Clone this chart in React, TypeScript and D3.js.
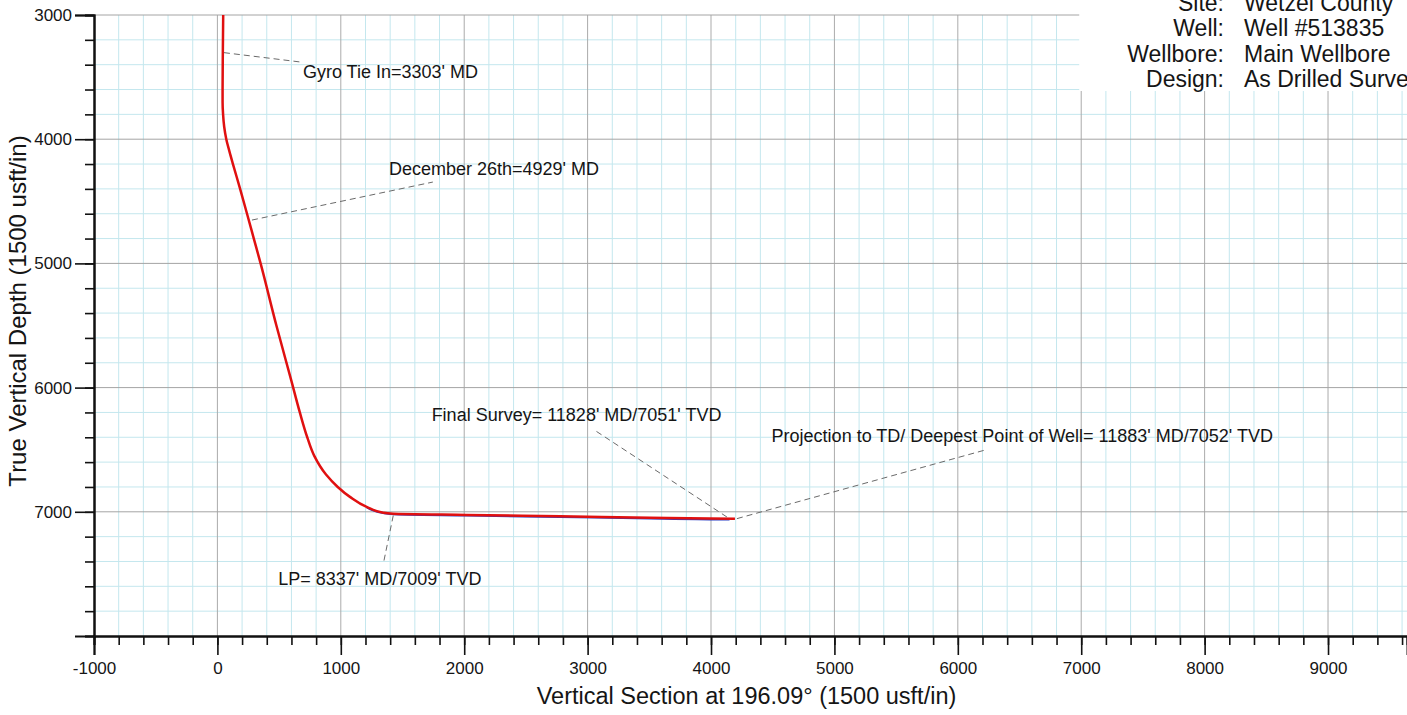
import { useRef, useEffect } from 'react'
import * as d3 from 'd3'

// As drilled survey (vertical section ft, TVD ft)
const SURVEY_VS = [47, 44, 42, 42, 46, 55, 72, 98, 126, 184, 240, 295, 350, 478, 598, 668, 728, 785, 880, 975, 1074, 1209, 1344, 1425, 2019, 2776, 3505, 3991, 4194]
const SURVEY_TVD = [3000, 3300, 3600, 3700, 3800, 3900, 4000, 4100, 4200, 4400, 4600, 4800, 5000, 5500, 5940, 6200, 6400, 6550, 6700, 6800, 6880, 6960, 7007, 7015, 7025, 7036, 7047, 7054, 7056]

// plan line (only shows under the lateral)
const PLAN_VS = [1209, 1344, 1425, 2019, 2776, 3505, 3991, 4150]
const PLAN_TVD = [6962, 7010, 7019, 7030, 7042, 7054, 7061, 7062]

const X_MAJOR = [-1000, 0, 1000, 2000, 3000, 4000, 5000, 6000, 7000, 8000, 9000]
const Y_MAJOR = [3000, 4000, 5000, 6000, 7000]

const HEADER_LABELS = ['Site:', 'Well:', 'Wellbore:', 'Design:']
const HEADER_VALUES = ['Wetzel County', 'Well #513835', 'Main Wellbore', 'As Drilled Survey']

interface Note {
  text: string
  at: [number, number]
  elbow: [number, number]
  label: [number, number]
}

const NOTES: Note[] = [
  { text: "Gyro Tie In=3303' MD", at: [53, 3303], elbow: [669, 3378], label: [693, 3507] },
  { text: "December 26th=4929' MD", at: [280, 4651], elbow: [1746, 4345], label: [1390, 4288] },
  { text: "Final Survey= 11828' MD/7051' TVD", at: [4129, 7042], elbow: [3055, 6342], label: [1736, 6265] },
  { text: "Projection to TD/ Deepest Point of Well= 11883' MD/7052' TVD", at: [4210, 7055], elbow: [6220, 6503], label: [4491, 6441] },
  { text: "LP= 8337' MD/7009' TVD", at: [1425, 7030], elbow: [1344, 7421], label: [493, 7590] },
]

const W = 1407
const H = 715
const FONT = '"Liberation Sans", Arial, sans-serif'

export default function App() {
  const svgRef = useRef<SVGSVGElement>(null)

  useEffect(() => {
    if (!svgRef.current) return
    const svg = d3.select(svgRef.current)
    svg.selectAll('*').remove()

    const x = d3.scaleLinear().domain([-1000, 9640]).range([94, W])
    const y = d3.scaleLinear().domain([3000, 8000]).range([15, 636])
    const [x0, x1] = x.range()
    const [y0, y1] = y.range()

    const minorX = d3.range(-1000, 9640, 200)
    const minorY = d3.range(3000, 8001, 200)

    // grid
    const grid = svg.append('g')
    grid.selectAll('line.vmin')
      .data(minorX.filter((v) => v % 1000 !== 0))
      .enter().append('line')
      .attr('x1', (d) => x(d)).attr('x2', (d) => x(d))
      .attr('y1', y0).attr('y2', y1)
      .attr('stroke', '#c4e7ee').attr('stroke-width', 1)
    grid.selectAll('line.hmin')
      .data(minorY.filter((v) => v % 1000 !== 0))
      .enter().append('line')
      .attr('x1', x0).attr('x2', x1)
      .attr('y1', (d) => y(d)).attr('y2', (d) => y(d))
      .attr('stroke', '#c4e7ee').attr('stroke-width', 1)
    grid.selectAll('line.vmaj')
      .data(X_MAJOR.slice(1))
      .enter().append('line')
      .attr('x1', (d) => x(d)).attr('x2', (d) => x(d))
      .attr('y1', y0).attr('y2', y1)
      .attr('stroke', '#ababab').attr('stroke-width', 1)
    grid.selectAll('line.hmaj')
      .data(Y_MAJOR)
      .enter().append('line')
      .attr('x1', x0).attr('x2', x1)
      .attr('y1', (d) => y(d)).attr('y2', (d) => y(d))
      .attr('stroke', '#a4a4a4').attr('stroke-width', 1)

    // header box hides grid behind well info
    svg.append('rect')
      .attr('x', x(7000) - 2).attr('y', 0)
      .attr('width', W - x(7000) + 2).attr('height', 91)
      .attr('fill', '#fff')

    svg.append('defs').append('clipPath')
      .attr('id', 'plot-clip')
      .append('rect')
      .attr('x', x0).attr('y', y0)
      .attr('width', x1 - x0).attr('height', y1 - y0)

    const line = d3.line<[number, number]>()
      .x((d) => x(d[0]))
      .y((d) => y(d[1]))
      .curve(d3.curveMonotoneY)

    const plot = svg.append('g').attr('clip-path', 'url(#plot-clip)')
    plot.append('path')
      .datum(PLAN_VS.map((v, i) => [v, PLAN_TVD[i]] as [number, number]))
      .attr('d', line)
      .attr('fill', 'none')
      .attr('stroke', '#2a3fc4')
      .attr('stroke-width', 2)
    plot.append('path')
      .datum(SURVEY_VS.map((v, i) => [v, SURVEY_TVD[i]] as [number, number]))
      .attr('d', line)
      .attr('fill', 'none')
      .attr('stroke', '#e01010')
      .attr('stroke-width', 2.5)

    // annotations
    const notes = svg.append('g')
    NOTES.forEach((n) => {
      notes.append('line')
        .attr('x1', x(n.at[0])).attr('y1', y(n.at[1]))
        .attr('x2', x(n.elbow[0])).attr('y2', y(n.elbow[1]))
        .attr('stroke', '#6a6a6a')
        .attr('stroke-width', 1)
        .attr('stroke-dasharray', '6,4')
      notes.append('text')
        .attr('x', x(n.label[0])).attr('y', y(n.label[1]))
        .attr('font-family', FONT)
        .attr('font-size', 18)
        .attr('fill', '#151515')
        .text(n.text)
    })

    // axes
    const fmt = (d: d3.NumberValue) => String(d)
    const xMinor = svg.append('g')
      .attr('transform', `translate(0,${y1})`)
      .call(d3.axisBottom(x).tickValues(minorX).tickSize(9).tickFormat(() => ''))
    const xAxis = svg.append('g')
      .attr('transform', `translate(0,${y1})`)
      .call(d3.axisBottom(x).tickValues(X_MAJOR).tickSize(19).tickPadding(7).tickFormat(fmt))
    const yMinor = svg.append('g')
      .attr('transform', `translate(${x0},0)`)
      .call(d3.axisLeft(y).tickValues(minorY).tickSize(9).tickFormat(() => ''))
    const yAxis = svg.append('g')
      .attr('transform', `translate(${x0},0)`)
      .call(d3.axisLeft(y).tickValues(Y_MAJOR).tickSize(19).tickPadding(3).tickFormat(fmt))

    ;[xMinor, xAxis, yMinor, yAxis].forEach((g) => {
      g.select('.domain').attr('stroke', '#111').attr('stroke-width', 2)
      g.selectAll('.tick line').attr('stroke', '#111').attr('stroke-width', 1.6)
      g.selectAll('text')
        .attr('fill', '#151515')
        .attr('font-family', FONT)
        .attr('font-size', 17)
    })

    svg.append('text')
      .attr('x', (x0 + x1) / 2 - 4)
      .attr('y', 704)
      .attr('text-anchor', 'middle')
      .attr('font-family', FONT)
      .attr('font-size', 23.5)
      .attr('fill', '#151515')
      .text('Vertical Section at 196.09° (1500 usft/in)')

    svg.append('text')
      .attr('transform', `translate(26,311) rotate(-90)`)
      .attr('text-anchor', 'middle')
      .attr('font-family', FONT)
      .attr('font-size', 24)
      .attr('fill', '#151515')
      .text('True Vertical Depth (1500 usft/in)')

    // well header
    const header = svg.append('g')
    HEADER_LABELS.forEach((lbl, i) => {
      const base = 10.5 + i * 25.6
      header.append('text')
        .attr('x', 1224).attr('y', base)
        .attr('text-anchor', 'end')
        .attr('font-family', FONT).attr('font-size', 23)
        .attr('fill', '#151515')
        .text(lbl)
      header.append('text')
        .attr('x', 1244).attr('y', base)
        .attr('font-family', FONT).attr('font-size', 23)
        .attr('fill', '#151515')
        .text(HEADER_VALUES[i])
    })
  }, [])

  return (
    <svg
      ref={svgRef}
      width={W}
      height={H}
      style={{ position: 'absolute', left: 0, top: 0, background: '#fff' }}
    />
  )
}
